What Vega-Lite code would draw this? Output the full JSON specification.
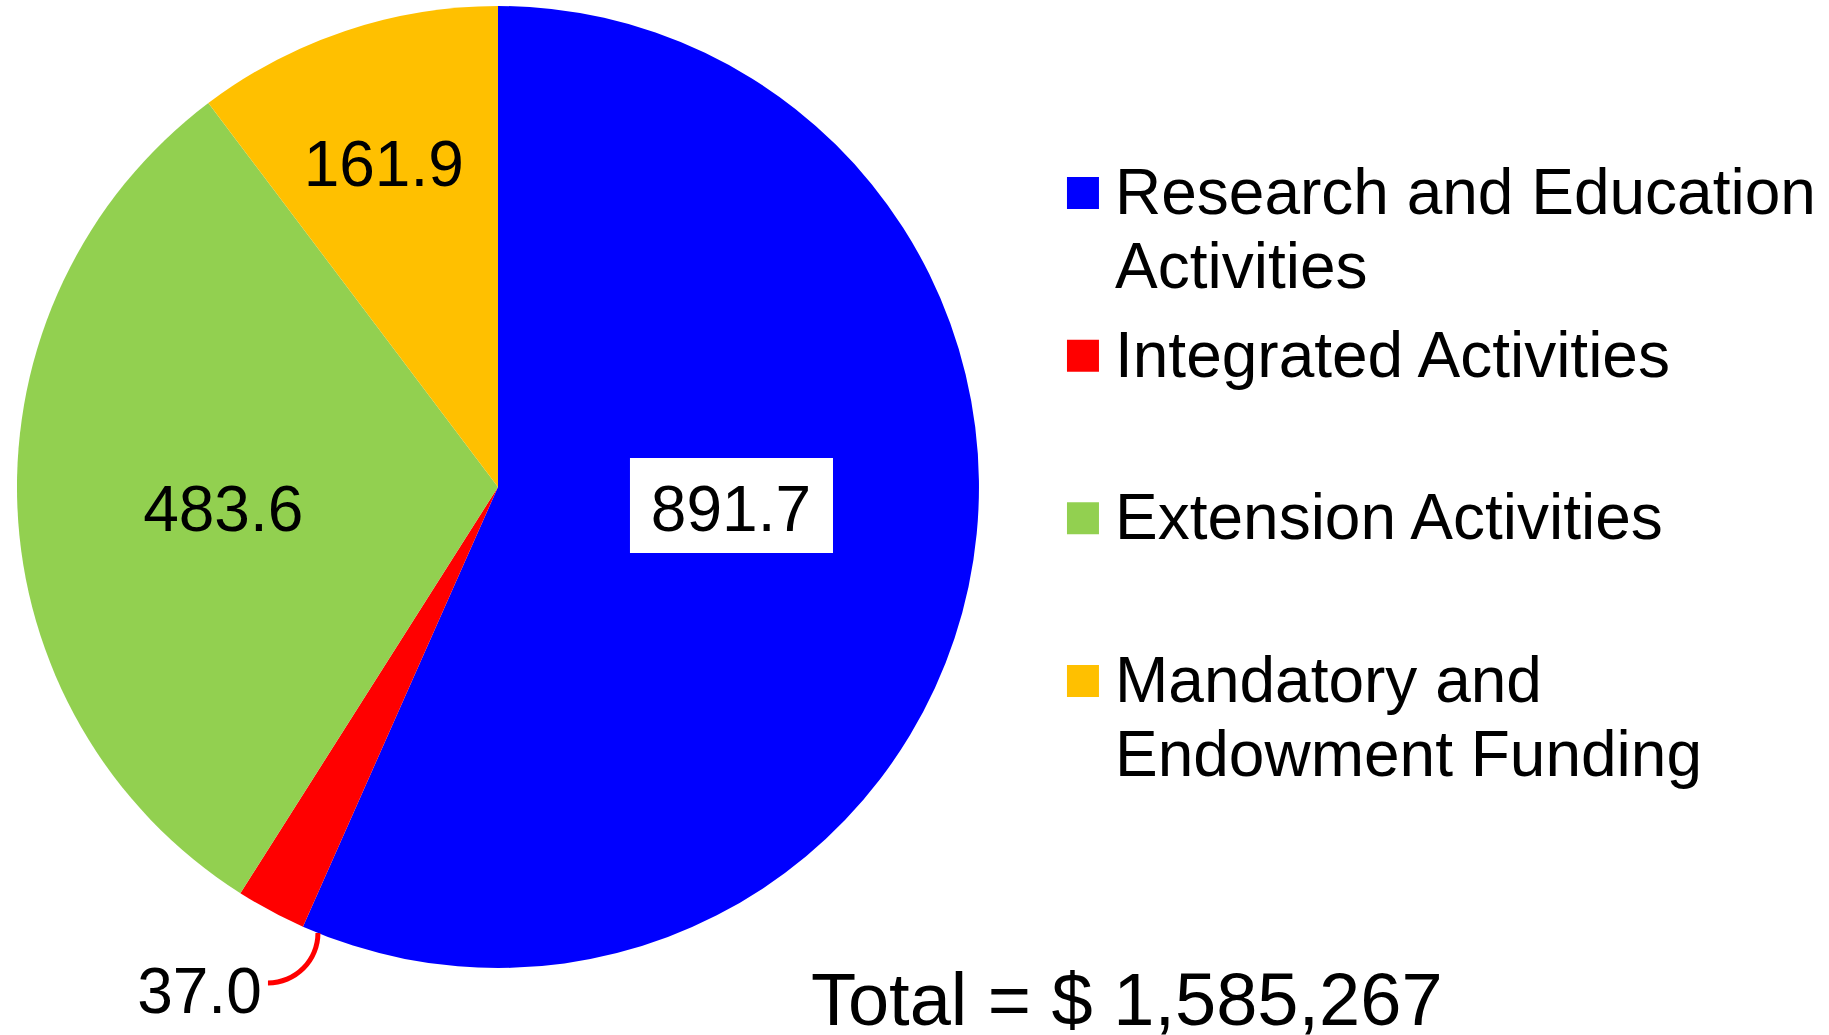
{
  "$schema": "https://vega.github.io/schema/vega-lite/v6.json",
  "width": 1829,
  "height": 1035,
  "autosize": {"type": "none"},
  "padding": 0,
  "background": "white",
  "config": {"view": {"stroke": null}, "font": "Liberation Sans"},
  "datasets": {
    "funding": [
      {"category": "Research and Education Activities", "label": "Research and Education\nActivities", "value": 891.7, "order": 1},
      {"category": "Integrated Activities", "label": "Integrated Activities", "value": 37.0, "order": 2},
      {"category": "Extension Activities", "label": "Extension Activities", "value": 483.6, "order": 3},
      {"category": "Mandatory and Endowment Funding", "label": "Mandatory and\nEndowment Funding", "value": 161.9, "order": 4}
    ]
  },
  "data": {"name": "funding"},
  "resolve": {"scale": {"y": "independent"}},
  "layer": [
    {
      "mark": {"type": "arc", "outerRadius": 481},
      "encoding": {
        "x": {"datum": 0, "type": "quantitative", "scale": {"domain": [-1.0353, 2.7672], "nice": false, "zero": false}, "axis": null},
        "y": {"datum": 0, "type": "quantitative", "scale": {"domain": [-1.1393, 1.0125], "nice": false, "zero": false}, "axis": null},
        "theta": {"field": "value", "type": "quantitative", "stack": true},
        "order": {"field": "order", "type": "quantitative"},
        "color": {
          "field": "category",
          "type": "nominal",
          "scale": {
            "domain": ["Research and Education Activities", "Integrated Activities", "Extension Activities", "Mandatory and Endowment Funding"],
            "range": ["#0000FF", "#FF0000", "#92D050", "#FFC000"]
          },
          "legend": null
        }
      }
    },
    {
      "data": {"values": [{"note": "label box"}]},
      "mark": {"type": "rect", "color": "white"},
      "encoding": {
        "x": {"datum": 0.2744, "type": "quantitative"},
        "x2": {"datum": 0.6965},
        "y": {"datum": 0.0603, "type": "quantitative", "scale": {"domain": [-1.1393, 1.0125], "nice": false, "zero": false}, "axis": null},
        "y2": {"datum": -0.1372}
      }
    },
    {
      "data": {"values": [{"note": "leader"}]},
      "mark": {"type": "arc", "theta": 1.5708, "theta2": 3.1416, "innerRadius": 47.5, "outerRadius": 52.5, "color": "#FF0000"},
      "encoding": {
        "x": {"datum": -0.4782, "type": "quantitative"},
        "y": {"datum": -0.9272, "type": "quantitative", "scale": {"domain": [-1.1393, 1.0125], "nice": false, "zero": false}, "axis": null}
      }
    },
    {
      "mark": {"type": "text", "radius": 232, "dx": 6, "dy": -23, "fontSize": 64, "color": "black"},
      "encoding": {
        "x": {"datum": 0, "type": "quantitative"},
        "y": {"datum": 0, "type": "quantitative", "scale": {"domain": [-1.1393, 1.0125], "nice": false, "zero": false}, "axis": null},
        "theta": {"field": "value", "type": "quantitative", "stack": true},
        "order": {"field": "order", "type": "quantitative"},
        "detail": {"field": "category"},
        "text": {"condition": {"test": "datum.category === 'Research and Education Activities'", "field": "value", "type": "quantitative", "format": ".1f"}, "value": ""}
      }
    },
    {
      "mark": {"type": "text", "radius": 584, "dx": -23, "dy": -8, "fontSize": 64, "color": "black"},
      "encoding": {
        "x": {"datum": 0, "type": "quantitative"},
        "y": {"datum": 0, "type": "quantitative", "scale": {"domain": [-1.1393, 1.0125], "nice": false, "zero": false}, "axis": null},
        "theta": {"field": "value", "type": "quantitative", "stack": true},
        "order": {"field": "order", "type": "quantitative"},
        "detail": {"field": "category"},
        "text": {"condition": {"test": "datum.category === 'Integrated Activities'", "field": "value", "type": "quantitative", "format": ".1f"}, "value": ""}
      }
    },
    {
      "mark": {"type": "text", "radius": 275, "dx": 0, "dy": 14, "fontSize": 64, "color": "black"},
      "encoding": {
        "x": {"datum": 0, "type": "quantitative"},
        "y": {"datum": 0, "type": "quantitative", "scale": {"domain": [-1.1393, 1.0125], "nice": false, "zero": false}, "axis": null},
        "theta": {"field": "value", "type": "quantitative", "stack": true},
        "order": {"field": "order", "type": "quantitative"},
        "detail": {"field": "category"},
        "text": {"condition": {"test": "datum.category === 'Extension Activities'", "field": "value", "type": "quantitative", "format": ".1f"}, "value": ""}
      }
    },
    {
      "mark": {"type": "text", "radius": 344, "dx": -5, "dy": 6, "fontSize": 64, "color": "black"},
      "encoding": {
        "x": {"datum": 0, "type": "quantitative"},
        "y": {"datum": 0, "type": "quantitative", "scale": {"domain": [-1.1393, 1.0125], "nice": false, "zero": false}, "axis": null},
        "theta": {"field": "value", "type": "quantitative", "stack": true},
        "order": {"field": "order", "type": "quantitative"},
        "detail": {"field": "category"},
        "text": {"condition": {"test": "datum.category === 'Mandatory and Endowment Funding'", "field": "value", "type": "quantitative", "format": ".1f"}, "value": ""}
      }
    },
    {
      "data": {"values": [{"caption": "Total = $ 1,585,267"}]},
      "mark": {"type": "text", "align": "left", "baseline": "alphabetic", "fontSize": 74, "color": "black"},
      "encoding": {
        "x": {"datum": 0.6507, "type": "quantitative"},
        "y": {"datum": -1.1185, "type": "quantitative", "scale": {"domain": [-1.1393, 1.0125], "nice": false, "zero": false}, "axis": null},
        "text": {"field": "caption"}
      }
    },
    {
      "mark": {"type": "point", "shape": "square", "filled": true, "size": 1024, "opacity": 1, "strokeWidth": 0},
      "encoding": {
        "x": {"datum": 1.2162, "type": "quantitative"},
        "y": {
          "field": "category",
          "type": "nominal",
          "sort": ["Research and Education Activities", "Integrated Activities", "Extension Activities", "Mandatory and Endowment Funding"],
          "scale": {"type": "point", "range": [193, 681], "padding": 0},
          "axis": null
        },
        "color": {"field": "category", "type": "nominal", "legend": null}
      }
    },
    {
      "mark": {"type": "text", "align": "left", "baseline": "alphabetic", "dx": 32, "dy": 21, "fontSize": 64, "lineBreak": "\n", "lineHeight": 74, "color": "black"},
      "encoding": {
        "x": {"datum": 1.2162, "type": "quantitative"},
        "y": {
          "field": "category",
          "type": "nominal",
          "sort": ["Research and Education Activities", "Integrated Activities", "Extension Activities", "Mandatory and Endowment Funding"],
          "scale": {"type": "point", "range": [193, 681], "padding": 0},
          "axis": null
        },
        "text": {"field": "label"}
      }
    }
  ]
}
